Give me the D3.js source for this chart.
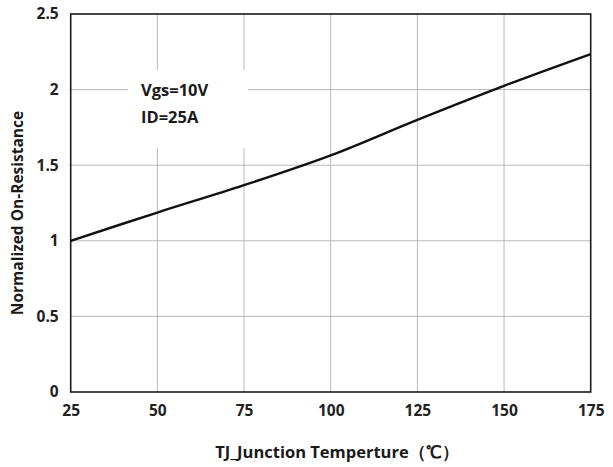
<!DOCTYPE html>
<html><head><meta charset="utf-8">
<script src="https://cdn.jsdelivr.net/npm/d3@7"></script>
<style>body{margin:0;background:#fff;}svg{display:block;font-family:"Open Sans",sans-serif;}</style>
</head><body><div id="c"></div>
<script>
const temps = [25, 50, 75, 100, 125, 150, 175];
const resistance = [1.0, 1.187, 1.368, 1.565, 1.80, 2.025, 2.235];
const xTicks = [25, 50, 75, 100, 125, 150, 175];
const yTicks = [0, 0.5, 1, 1.5, 2, 2.5];
const yTickLabels = ["0", "0.5", "1", "1.5", "2", "2.5"];
const notes = ["Vgs=10V", "ID=25A"];
const xTitle = "TJ_Junction Temperture（℃）";
const yTitle = "Normalized On-Resistance";

const W = 613, H = 467;
const svg = d3.select("#c").append("svg").attr("width", W).attr("height", H);
const x = d3.scaleLinear().domain([25, 175]).range([70.7, 590.7]);
const y = d3.scaleLinear().domain([0, 2.5]).range([392, 14]);

// grid
svg.append("g").selectAll("line").data(xTicks.slice(1, -1)).join("line")
  .attr("x1", d => x(d)).attr("x2", d => x(d)).attr("y1", y(0)).attr("y2", y(2.5))
  .attr("stroke", "#b8b8b8").attr("stroke-width", 1);
svg.append("g").selectAll("line").data(yTicks.slice(1, -1)).join("line")
  .attr("x1", x(25)).attr("x2", x(175)).attr("y1", d => y(d)).attr("y2", d => y(d))
  .attr("stroke", "#b8b8b8").attr("stroke-width", 1);

// annotation white box
svg.append("rect").attr("x", 128).attr("y", 70).attr("width", 120).attr("height", 78).attr("fill", "#fff");
svg.append("g").selectAll("text").data(notes).join("text")
  .attr("x", 141).attr("y", (d, i) => 96 + i * 27)
  .attr("font-size", 16.5).attr("font-weight", "bold").attr("fill", "#1a1a1a").text(d => d);

// frame
svg.append("rect").attr("x", x(25)).attr("y", y(2.5)).attr("width", x(175) - x(25)).attr("height", y(0) - y(2.5))
  .attr("fill", "none").attr("stroke", "#1a1a1a").attr("stroke-width", 1.6);

// line
const line = d3.line().x((d, i) => x(temps[i])).y(d => y(d)).curve(d3.curveCatmullRom);
svg.append("path").datum(resistance).attr("d", line).attr("fill", "none")
  .attr("stroke", "#111").attr("stroke-width", 2.4);

// axes
const xAxis = d3.axisBottom(x).tickValues(xTicks).tickSize(0).tickPadding(13);
const gx = svg.append("g").attr("transform", `translate(0,${y(0)})`).call(xAxis);
gx.select(".domain").remove();
gx.selectAll("text").attr("font-size", 15.5).attr("font-weight", "bold").attr("fill", "#222").attr("font-family", "'Open Sans',sans-serif");

const yAxis = d3.axisLeft(y).tickValues(yTicks).tickFormat((d, i) => yTickLabels[i]).tickSize(0).tickPadding(12);
const gy = svg.append("g").attr("transform", `translate(${x(25)},0)`).call(yAxis);
gy.select(".domain").remove();
gy.selectAll("text").attr("font-size", 15.5).attr("font-weight", "bold").attr("fill", "#222").attr("font-family", "'Open Sans',sans-serif");

svg.append("text").attr("x", 337).attr("y", 458).attr("text-anchor", "middle")
  .attr("font-size", 16.5).attr("font-weight", "bold").attr("fill", "#1a1a1a").text(xTitle);
svg.append("text").attr("transform", "translate(23,213) rotate(-90)").attr("text-anchor", "middle")
  .attr("font-size", 15.5).attr("font-weight", "bold").attr("fill", "#1a1a1a").text(yTitle);
</script></body></html>
